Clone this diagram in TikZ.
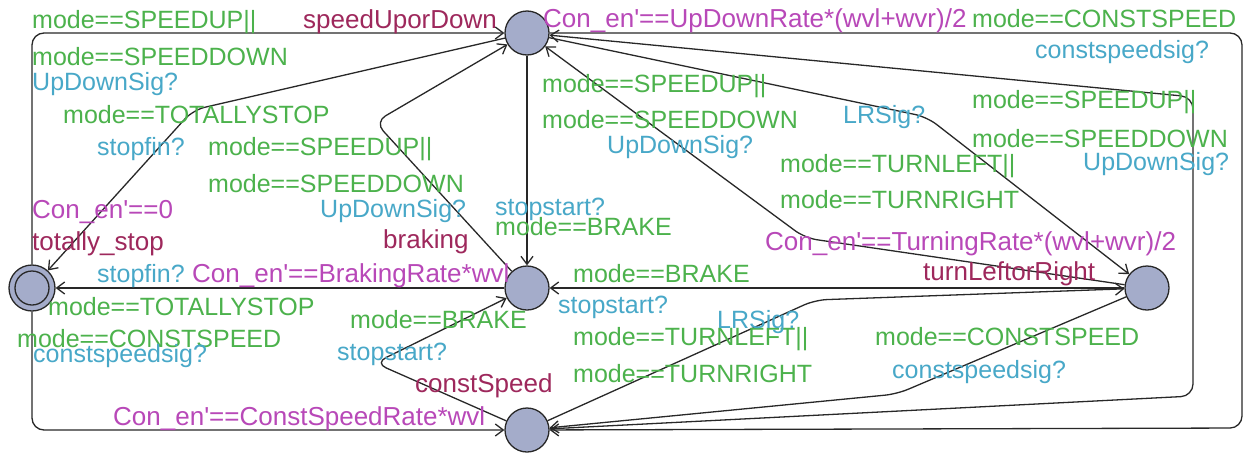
\documentclass[tikz,border=0pt]{standalone}
\usepackage{fontspec}
\newfontfamily\uf{Liberation Sans}
\usetikzlibrary{arrows.meta,backgrounds}
\definecolor{guardc}{RGB}{76,178,76}
\definecolor{syncc}{RGB}{72,168,200}
\definecolor{invc}{RGB}{184,72,184}
\definecolor{namec}{RGB}{158,40,92}
\definecolor{locfill}{RGB}{164,172,202}
\definecolor{edgec}{RGB}{40,40,40}
\begin{document}
\begin{tikzpicture}[x=1pt,y=-1pt,
  loc/.style={circle,draw=edgec,fill=locfill,line width=1.3pt,minimum size=44pt,inner sep=0pt},
  edge/.style={draw=edgec,line width=1.3pt,rounded corners=12pt,-{Straight Barb[length=8pt,width=12pt]}},
  lab/.style={anchor=base west,inner sep=0pt,font=\uf\fontsize{25}{30}\selectfont},
  guard/.style={lab,text=guardc},
  sync/.style={lab,text=syncc},
  inv/.style={lab,text=invc,font=\uf\fontsize{26}{30}\selectfont},
  nm/.style={lab,text=namec,font=\uf\fontsize{26}{30}\selectfont}]
\useasboundingbox (0,0) rectangle (1247,453);
% locations
\node[loc] (S) at (527,33) {};
\node[loc] (B) at (527,288) {};
\node[loc,minimum size=46pt] (T) at (32,288) {};
\draw[edgec,line width=1.3pt] (T.center) circle (17pt);
\node[loc] (L) at (1147,288) {};
\node[loc] (C) at (527,430) {};
% nails
\coordinate (otr) at (1242,33);
\coordinate (obr) at (1242,428);
\coordinate (itr) at (1193,97);
\coordinate (ibr) at (1193,396);
\coordinate (nSL) at (927,117);
\coordinate (nLS) at (805,238);
\coordinate (nST) at (193,110);
\coordinate (nBS) at (375,122);
\coordinate (nCB) at (375,363);
\coordinate (nCL) at (815,300);
\coordinate (nLC) at (897,394);
% edges
\begin{scope}[on background layer]
\fill[white] (0,0) rectangle (1247,453);
\draw[edge] (T) |- (S);
\draw[edge] (T) |- (C);
\draw[edge] (S) -- (otr) -- (obr) -- (C);
\draw[edge] (C) -- (ibr) -- (itr) -- (S);
\draw[edge] (S) -- (nSL) -- (L);
\draw[edge] (L) -- (nLS) -- (S);
\draw[edge] (S) -- (nST) -- (T);
\draw[edge] (B) -- (nBS) -- (S);
\draw[edge] (S) -- (B);
\draw[edge] (B) -- (T);
\draw[edge] (L) -- (B);
\draw[edge] (C) -- (nCB) -- (B);
\draw[edge] (C) -- (nCL) -- (L);
\draw[edge] (L) -- (nLC) -- (C);
\end{scope}
% guards
\node[guard] (g1) at (32,28) {mode==SPEEDUP||};
\node[guard] (g2) at (32,65) {mode==SPEEDDOWN};
\node[guard] (g3) at (63,123) {mode==TOTALLYSTOP};
\node[guard] (g4) at (208,155) {mode==SPEEDUP||};
\node[guard] (g5) at (208,192) {mode==SPEEDDOWN};
\node[guard] (g6) at (542,92) {mode==SPEEDUP||};
\node[guard] (g7) at (542,128) {mode==SPEEDDOWN};
\node[guard] (g8) at (972,27) {mode==CONSTSPEED};
\node[guard] (g9) at (972,108) {mode==SPEEDUP||};
\node[guard] (g10) at (972,147) {mode==SPEEDDOWN};
\node[guard] (g11) at (780,172) {mode==TURNLEFT||};
\node[guard] (g12) at (780,208) {mode==TURNRIGHT};
\node[guard] (g13) at (495,235) {mode==BRAKE};
\node[guard] (g14) at (573,282) {mode==BRAKE};
\node[guard] (g15) at (48,315) {mode==TOTALLYSTOP};
\node[guard] (g16) at (17,347) {mode==CONSTSPEED};
\node[guard] (g17) at (350,328) {mode==BRAKE};
\node[guard] (g18) at (573,345) {mode==TURNLEFT||};
\node[guard] (g19) at (573,382) {mode==TURNRIGHT};
\node[guard] (g20) at (875,345) {mode==CONSTSPEED};
% syncs
\node[sync] (s1) at (32,90) {UpDownSig?};
\node[sync] (s2) at (97,155) {stopfin?};
\node[sync] (s3) at (320,217) {UpDownSig?};
\node[sync] (s4) at (607,153) {UpDownSig?};
\node[sync] (s5) at (1035,58) {constspeedsig?};
\node[sync] (s6) at (843,123) {LRSig?};
\node[sync] (s7) at (1083,170) {UpDownSig?};
\node[sync] (s8) at (495,215) {stopstart?};
\node[sync] (s9) at (97,282) {stopfin?};
\node[sync] (s10) at (558,313) {stopstart?};
\node[sync] (s11) at (33,362) {constspeedsig?};
\node[sync] (s12) at (337,360) {stopstart?};
\node[sync] (s13) at (717,328) {LRSig?};
\node[sync] (s14) at (892,378) {constspeedsig?};
% invariants
\node[inv] (i1) at (543,27) {Con\_en'==UpDownRate*(wvl+wvr)/2};
\node[inv] (i2) at (32,218) {Con\_en'==0};
\node[inv] (i3) at (192,282) {Con\_en'==BrakingRate*wvl};
\node[inv] (i4) at (765,250) {Con\_en'==TurningRate*(wvl+wvr)/2};
\node[inv] (i5) at (113,425) {Con\_en'==ConstSpeedRate*wvl};
% names
\node[nm] (n1) at (303,28) {speedUporDown};
\node[nm] (n2) at (383,248) {braking};
\node[nm] (n3) at (32,250) {totally\_stop};
\node[nm] (n4) at (923,280) {turnLeftorRight};
\node[nm] (n5) at (415,392) {constSpeed};
\end{tikzpicture}
\end{document}
